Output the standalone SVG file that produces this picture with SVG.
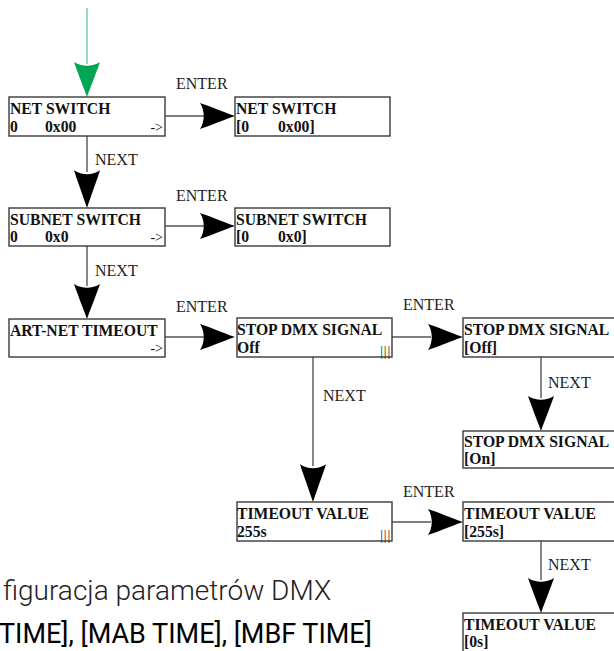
<svg xmlns="http://www.w3.org/2000/svg" xmlns:xlink="http://www.w3.org/1999/xlink" width="614" height="651" viewBox="0 0 614 651">
  <style>
    .box { fill: #ffffff; stroke: #3a3a3a; stroke-width: 1.4; }
    .ttl { font-family: "Liberation Serif", "Times New Roman", serif; font-weight: bold; font-size: 15.7px; fill: #111; }
    .val { font-family: "Liberation Serif", "Times New Roman", serif; font-weight: bold; font-size: 15.7px; fill: #111; }
    .nav { font-family: "Liberation Serif", "Times New Roman", serif; font-size: 14px; fill: #111; text-anchor: end; }
    .bars { font-family: "Liberation Serif", "Times New Roman", serif; font-size: 14px; fill: #222; text-anchor: end; letter-spacing: 0.8px; }
    .lbl { font-family: "Liberation Serif", "Times New Roman", serif; font-size: 16px; fill: #222; }
    .wire { stroke: #555; stroke-width: 1.4; fill: none; }
    .cap1 { font-family: Roboto, "Liberation Sans", sans-serif; font-weight: 300; font-size: 28px; fill: #222; }
    .cap2 { font-family: Roboto, "Liberation Sans", sans-serif; font-weight: 400; font-size: 27px; fill: #000; }
  </style>
  <defs>
    <!-- swept arrowhead, tip at the origin, pointing +x -->
    <path id="head" d="M0,0 C-14,-5 -26,-10 -35,-13 C-30,-5 -30,5 -35,13 C-26,10 -14,5 0,0 Z"/>
  </defs>

  <!-- connectors -->
  <g id="connectors">
    <!-- entry arrow -->
    <line x1="87" y1="8" x2="87" y2="64" stroke="#7fd3a6" stroke-width="1.6"/>
    <use xlink:href="#head" transform="translate(87,97) rotate(90)" fill="#00a651"/>

    <!-- NEXT: NET SWITCH -> SUBNET SWITCH -->
    <line class="wire" x1="87" y1="136" x2="87" y2="172"/>
    <use xlink:href="#head" transform="translate(87,208) rotate(90) scale(1.08,1)" fill="#000"/>
    <!-- NEXT: SUBNET SWITCH -> ART-NET TIMEOUT -->
    <line class="wire" x1="87" y1="246" x2="87" y2="286"/>
    <use xlink:href="#head" transform="translate(87,319) rotate(90)" fill="#000"/>

    <!-- ENTER arrows -->
    <line class="wire" x1="165" y1="116" x2="204" y2="116"/>
    <use xlink:href="#head" transform="translate(235,116)" fill="#000"/>
    <line class="wire" x1="165" y1="226" x2="204" y2="226"/>
    <use xlink:href="#head" transform="translate(235,226)" fill="#000"/>
    <line class="wire" x1="165" y1="337" x2="204" y2="337"/>
    <use xlink:href="#head" transform="translate(235,337)" fill="#000"/>
    <line class="wire" x1="392" y1="337" x2="431" y2="337"/>
    <use xlink:href="#head" transform="translate(463,337)" fill="#000"/>
    <line class="wire" x1="392" y1="522" x2="431" y2="522"/>
    <use xlink:href="#head" transform="translate(463,522)" fill="#000"/>

    <!-- NEXT: STOP DMX SIGNAL -> TIMEOUT VALUE -->
    <line class="wire" x1="313" y1="357" x2="313" y2="466"/>
    <use xlink:href="#head" transform="translate(313,502) rotate(90) scale(1.08,1)" fill="#000"/>

    <!-- NEXT in the value columns -->
    <line class="wire" x1="541" y1="357" x2="541" y2="398"/>
    <use xlink:href="#head" transform="translate(541,431) rotate(90)" fill="#000"/>
    <line class="wire" x1="541" y1="541" x2="541" y2="580"/>
    <use xlink:href="#head" transform="translate(541,613) rotate(90)" fill="#000"/>

    <!-- labels -->
    <text class="lbl" x="176" y="89">ENTER</text>
    <text class="lbl" x="176" y="201">ENTER</text>
    <text class="lbl" x="176" y="312">ENTER</text>
    <text class="lbl" x="403" y="310">ENTER</text>
    <text class="lbl" x="403" y="497">ENTER</text>
    <text class="lbl" x="95" y="165">NEXT</text>
    <text class="lbl" x="95" y="276">NEXT</text>
    <text class="lbl" x="323" y="401">NEXT</text>
    <text class="lbl" x="548" y="388">NEXT</text>
    <text class="lbl" x="548" y="570">NEXT</text>
  </g>

  <!-- menu nodes -->
  <g id="net-switch">
    <rect class="box" x="9" y="97" width="156" height="39"/>
    <text class="ttl" x="10" y="114">NET SWITCH</text>
    <text class="val" x="10" y="132">0</text>
    <text class="val" x="45" y="132">0x00</text>
    <text class="nav" x="163" y="132">-&gt;</text>
  </g>
  <g id="net-switch-edit">
    <rect class="box" x="235" y="97" width="155" height="39"/>
    <text class="ttl" x="236" y="114">NET SWITCH</text>
    <text class="val" x="236" y="132">[0</text>
    <text class="val" x="278" y="132">0x00]</text>
  </g>

  <g id="subnet-switch">
    <rect class="box" x="9" y="208" width="156" height="38"/>
    <text class="ttl" x="10" y="225">SUBNET SWITCH</text>
    <text class="val" x="10" y="242">0</text>
    <text class="val" x="45" y="242">0x0</text>
    <text class="nav" x="163" y="242">-&gt;</text>
  </g>
  <g id="subnet-switch-edit">
    <rect class="box" x="235" y="208" width="155" height="38"/>
    <text class="ttl" x="236" y="225">SUBNET SWITCH</text>
    <text class="val" x="236" y="242">[0</text>
    <text class="val" x="278" y="242">0x0]</text>
  </g>

  <g id="artnet-timeout">
    <rect class="box" x="9" y="319" width="156" height="38"/>
    <text class="ttl" x="10" y="336">ART-NET TIMEOUT</text>
    <text class="nav" x="163" y="353">-&gt;</text>
  </g>

  <g id="stop-dmx">
    <rect class="box" x="237" y="318" width="155" height="39"/>
    <text class="ttl" x="237" y="335">STOP DMX SIGNAL</text>
    <text class="val" x="237" y="353">Off</text>
    <text class="bars" x="391" y="356">|||</text>
  </g>
  <g id="stop-dmx-off">
    <rect class="box" x="463" y="318" width="160" height="39"/>
    <text class="ttl" x="464" y="335">STOP DMX SIGNAL</text>
    <text class="val" x="464" y="353">[Off]</text>
  </g>
  <g id="stop-dmx-on">
    <rect class="box" x="463" y="431" width="160" height="37"/>
    <text class="ttl" x="464" y="447">STOP DMX SIGNAL</text>
    <text class="val" x="464" y="464">[On]</text>
  </g>

  <g id="timeout-value">
    <rect class="box" x="237" y="502" width="155" height="39"/>
    <text class="ttl" x="237" y="519">TIMEOUT VALUE</text>
    <text class="val" x="237" y="537">255s</text>
    <text class="bars" x="391" y="540">|||</text>
  </g>
  <g id="timeout-value-255">
    <rect class="box" x="463" y="502" width="160" height="39"/>
    <text class="ttl" x="464" y="519">TIMEOUT VALUE</text>
    <text class="val" x="464" y="537">[255s]</text>
  </g>
  <g id="timeout-value-0">
    <rect class="box" x="463" y="613" width="160" height="45"/>
    <text class="ttl" x="464" y="630">TIMEOUT VALUE</text>
    <text class="val" x="464" y="647">[0s]</text>
  </g>

  <!-- caption text -->
  <text class="cap1" x="3" y="600">figuracja parametrów DMX</text>
  <text class="cap2" x="-1" y="643">TIME], [MAB TIME], [MBF TIME]</text>
</svg>
